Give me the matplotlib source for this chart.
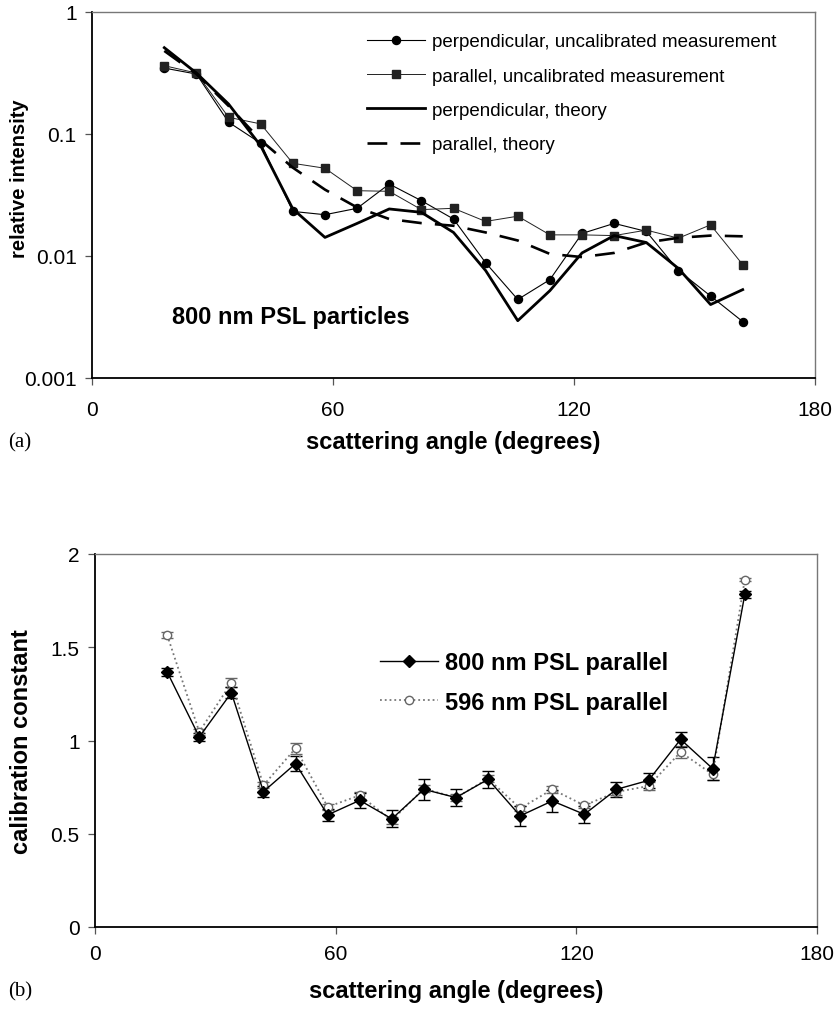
import matplotlib
matplotlib.use("Agg")
import matplotlib.pyplot as plt
from matplotlib.lines import Line2D
from matplotlib.ticker import FixedLocator, FixedFormatter

plt.rcParams['font.family'] = ['Liberation Sans', 'DejaVu Sans']

# scattering angles (degrees)
angles = [18, 26, 34, 42, 50, 58, 66, 74, 82, 90, 98, 106, 114, 122, 130, 138, 146, 154, 162]

# (a) relative intensity
perp_meas = [0.347, 0.31, 0.125, 0.084, 0.0232, 0.0218, 0.0246, 0.0389, 0.0284, 0.0201,
             0.0088, 0.0044, 0.0064, 0.0153, 0.0185, 0.0159, 0.0076, 0.0047, 0.0029]
par_meas = [0.363, 0.316, 0.137, 0.121, 0.0575, 0.0524, 0.0343, 0.0339, 0.024, 0.0246,
            0.0192, 0.0212, 0.0149, 0.0149, 0.0147, 0.0163, 0.014, 0.018, 0.0085]
perp_theory = [0.51, 0.316, 0.176, 0.08, 0.0243, 0.0142, 0.0185, 0.0243, 0.0228, 0.0156,
               0.0076, 0.00295, 0.0052, 0.0106, 0.0147, 0.0129, 0.0079, 0.004, 0.0053]
par_theory = [0.48, 0.31, 0.17, 0.089, 0.053, 0.035, 0.025, 0.0201, 0.0186, 0.0177,
              0.0156, 0.0134, 0.0104, 0.0098, 0.0106, 0.0129, 0.0141, 0.0147, 0.0145]

# (b) calibration constant
cal800 = [1.367, 1.019, 1.256, 0.726, 0.876, 0.601, 0.679, 0.58, 0.738, 0.694,
          0.792, 0.596, 0.676, 0.604, 0.738, 0.786, 1.006, 0.849, 1.783]
err800 = [0.02, 0.02, 0.03, 0.03, 0.04, 0.03, 0.04, 0.045, 0.055, 0.045,
          0.045, 0.055, 0.06, 0.045, 0.04, 0.04, 0.04, 0.06, 0.02]
cal596 = [1.565, 1.046, 1.31, 0.76, 0.958, 0.644, 0.706, 0.572, 0.742, 0.694,
          0.795, 0.636, 0.738, 0.652, 0.724, 0.756, 0.938, 0.818, 1.863]
err596 = [0.015, 0.015, 0.025, 0.015, 0.03, 0.015, 0.02, 0.02, 0.02, 0.02,
          0.02, 0.015, 0.02, 0.015, 0.015, 0.02, 0.03, 0.03, 0.01]

x_ticks = [0, 60, 120, 180]

W, H = 836, 1012
fig = plt.figure(figsize=(W / 100, H / 100), dpi=100)


def px_axes(l, t, r, b):
    return fig.add_axes([l / W, 1 - b / H, (r - l) / W, (b - t) / H])


def style_axes(ax, xpad):
    for s in ['left', 'bottom']:
        ax.spines[s].set_color('black')
        ax.spines[s].set_linewidth(1.3)
    for s in ['top', 'right']:
        ax.spines[s].set_color('#777777')
        ax.spines[s].set_linewidth(1.0)
    ax.tick_params(direction='out', length=5, width=0.9, color='#555555',
                   labelsize=15, pad=6)
    ax.set_xlim(0, 180)
    ax.xaxis.set_major_locator(FixedLocator(x_ticks))
    ax.tick_params(axis='x', pad=xpad)


# ---- panel (a)
ax1 = px_axes(92, 13, 815, 379)
ax1.set_yscale('log')
ax1.plot(angles, perp_meas, color='black', lw=0.8, marker='o', ms=5.8,
         label='perpendicular, uncalibrated measurement')
ax1.plot(angles, par_meas, color='#222222', lw=0.7, marker='s', ms=5.5,
         label='parallel, uncalibrated measurement')
ax1.plot(angles, perp_theory, color='black', lw=2.0, label='perpendicular, theory')
ax1.plot(angles, par_theory, color='black', lw=1.9, linestyle=(0, (7.5, 5)),
         label='parallel, theory')
ax1.set_ylim(0.001, 1)
ax1.yaxis.set_major_locator(FixedLocator([0.001, 0.01, 0.1, 1]))
ax1.yaxis.set_major_formatter(FixedFormatter(['0.001', '0.01', '0.1', '1']))
ax1.yaxis.set_minor_locator(FixedLocator([]))
style_axes(ax1, 11)
ax1.text(0.111, 0.169, '800 nm PSL particles', transform=ax1.transAxes,
         fontsize=17, fontweight='bold', ha='left', va='center')
ax1.legend(loc='upper left', bbox_to_anchor=(367 / W, 1 - 34 / H),
           bbox_transform=fig.transFigure, frameon=False, fontsize=13.5,
           handlelength=3.1, handletextpad=0.35, labelspacing=0.92,
           borderpad=0, borderaxespad=0)

# ---- panel (b)
ax2 = px_axes(95, 555, 817, 928)
ax2.errorbar(angles, cal596, yerr=err596, color='#777777', lw=1.3, ls=':',
             marker='o', ms=6, mfc='white', mec='#666666', mew=1.0,
             ecolor='#666666', elinewidth=0.9, capsize=4, capthick=0.9)
ax2.errorbar(angles, cal800, yerr=err800, color='black', lw=1.0, ls='-',
             marker='D', ms=6, mfc='black', mec='black',
             ecolor='black', elinewidth=1.0, capsize=4.5, capthick=1.0)
ax2.set_ylim(0, 2)
ax2.yaxis.set_major_locator(FixedLocator([0, 0.5, 1, 1.5, 2]))
ax2.yaxis.set_major_formatter(FixedFormatter(['0', '0.5', '1', '1.5', '2']))
style_axes(ax2, 7)
leg_handles = [
    Line2D([], [], color='black', lw=1.0, marker='D', ms=6, mfc='black', mec='black'),
    Line2D([], [], color='#777777', lw=1.3, ls=':', marker='o', ms=6,
           mfc='white', mec='#666666'),
]
ax2.legend(leg_handles, ['800 nm PSL parallel', '596 nm PSL parallel'],
           loc='upper left', bbox_to_anchor=(380 / W, 1 - 652 / H),
           bbox_transform=fig.transFigure, frameon=False,
           prop={'size': 17, 'weight': 'bold'},
           handlelength=2.45, handletextpad=0.3, labelspacing=0.7,
           borderpad=0, borderaxespad=0)

# ---- axis titles and panel letters
fig.text(20 / W, 1 - 179 / H, 'relative intensity', rotation=90, fontsize=14.5,
         fontweight='bold', ha='center', va='center')
fig.text(22 / W, 1 - 742 / H, 'calibration constant', rotation=90, fontsize=17,
         fontweight='bold', ha='center', va='center')
fig.text(453 / W, 1 - 443 / H, 'scattering angle (degrees)', fontsize=17,
         fontweight='bold', ha='center', va='center')
fig.text(456 / W, 1 - 992 / H, 'scattering angle (degrees)', fontsize=17,
         fontweight='bold', ha='center', va='center')
fig.text(8 / W, 1 - 443 / H, '(a)', fontsize=15, family='Liberation Serif',
         ha='left', va='center')
fig.text(8 / W, 1 - 992 / H, '(b)', fontsize=15, family='Liberation Serif',
         ha='left', va='center')

fig.savefig('out.png', dpi=100)
